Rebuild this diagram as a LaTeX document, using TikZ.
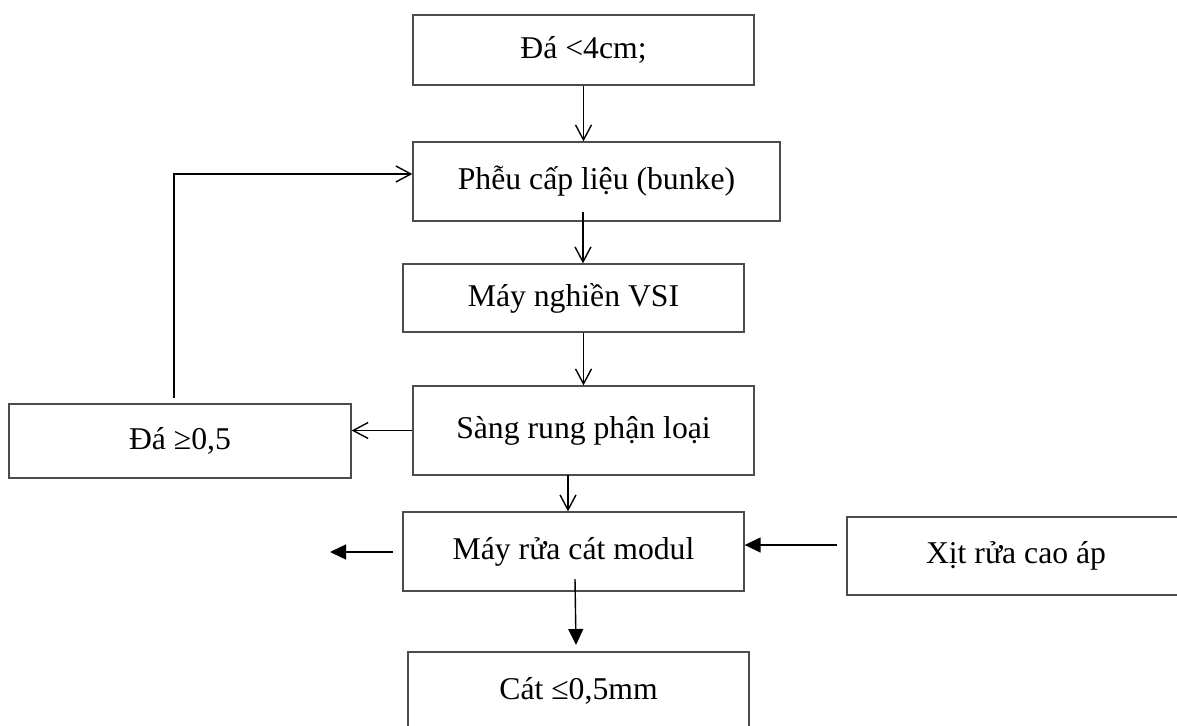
\documentclass[tikz,border=0pt]{standalone}
\usepackage{fontspec}
\setmainfont{Liberation Serif}
\usetikzlibrary{arrows.meta,calc}
\begin{document}
\begin{tikzpicture}[x=1pt,y=-1pt,
  box/.style={draw=black!70,line width=1.3pt,rectangle,inner sep=0pt,
    font=\fontsize{31.7}{38}\selectfont,text=black},
  openarrow/.style={line width=1.4pt,-{Straight Barb[length=15pt,width=16pt,line width=1.4pt]}},
  fillarrow/.style={line width=1.4pt,-{Triangle[length=16pt,width=15pt]}}]
\useasboundingbox (0,0) rectangle (1177,725);

% process boxes
\node[box,minimum width=341pt,minimum height=70pt] (b1) at (583.5,50) {Đá <4cm;};
\node[box,minimum width=367pt,minimum height=79pt] (b2) at (596.5,181.5) {Phễu cấp liệu (bunke)};
\node[box,minimum width=341pt,minimum height=68pt] (b3) at (573.5,298) {Máy nghiền VSI};
\node[box,minimum width=341pt,minimum height=89pt] (b4) at (583.5,430.5) {Sàng rung phận loại};
\node[box,minimum width=342pt,minimum height=74pt] (b5) at (180,441) {Đá ≥0,5};
\node[box,minimum width=341pt,minimum height=79pt] (b6) at (573.5,551.5) {Máy rửa cát modul};
\node[box,minimum width=341pt,minimum height=78pt] (b7) at (578.5,691) {Cát ≤0,5mm};
\node[box,minimum width=338pt,minimum height=78pt] (b8) at (1016,556) {Xịt rửa cao áp};

% free ends of connectors
\coordinate (c2s) at (583,212);
\coordinate (c5) at (568,475);
\coordinate (fb) at (174,398);
\coordinate (l1) at (393,552);
\coordinate (l2) at (330,552);
\coordinate (r1) at (837,545);
\coordinate (d1) at (575,579);
\coordinate (d2) at (576,645);

% main flow
\draw[openarrow] (b1.south) -- (b1.south |- b2.north);
\draw[openarrow] (c2s) -- (c2s |- b3.north);
\draw[openarrow] (b4.north |- b3.south) -- (b4.north);
\draw[openarrow] (b4.west) -- (b4.west -| b5.east);
\draw[openarrow] (c5) -- (c5 |- b6.north);
% return of oversize stone to the hopper
\draw[openarrow] (fb) |- ($(b2.west)+(0,-7.5)$);
% washer connections
\draw[fillarrow] (l1) -- (l2);
\draw[fillarrow] (r1) -- (r1 -| b6.east);
\draw[fillarrow] (d1) -- (d2);
\end{tikzpicture}
\end{document}
